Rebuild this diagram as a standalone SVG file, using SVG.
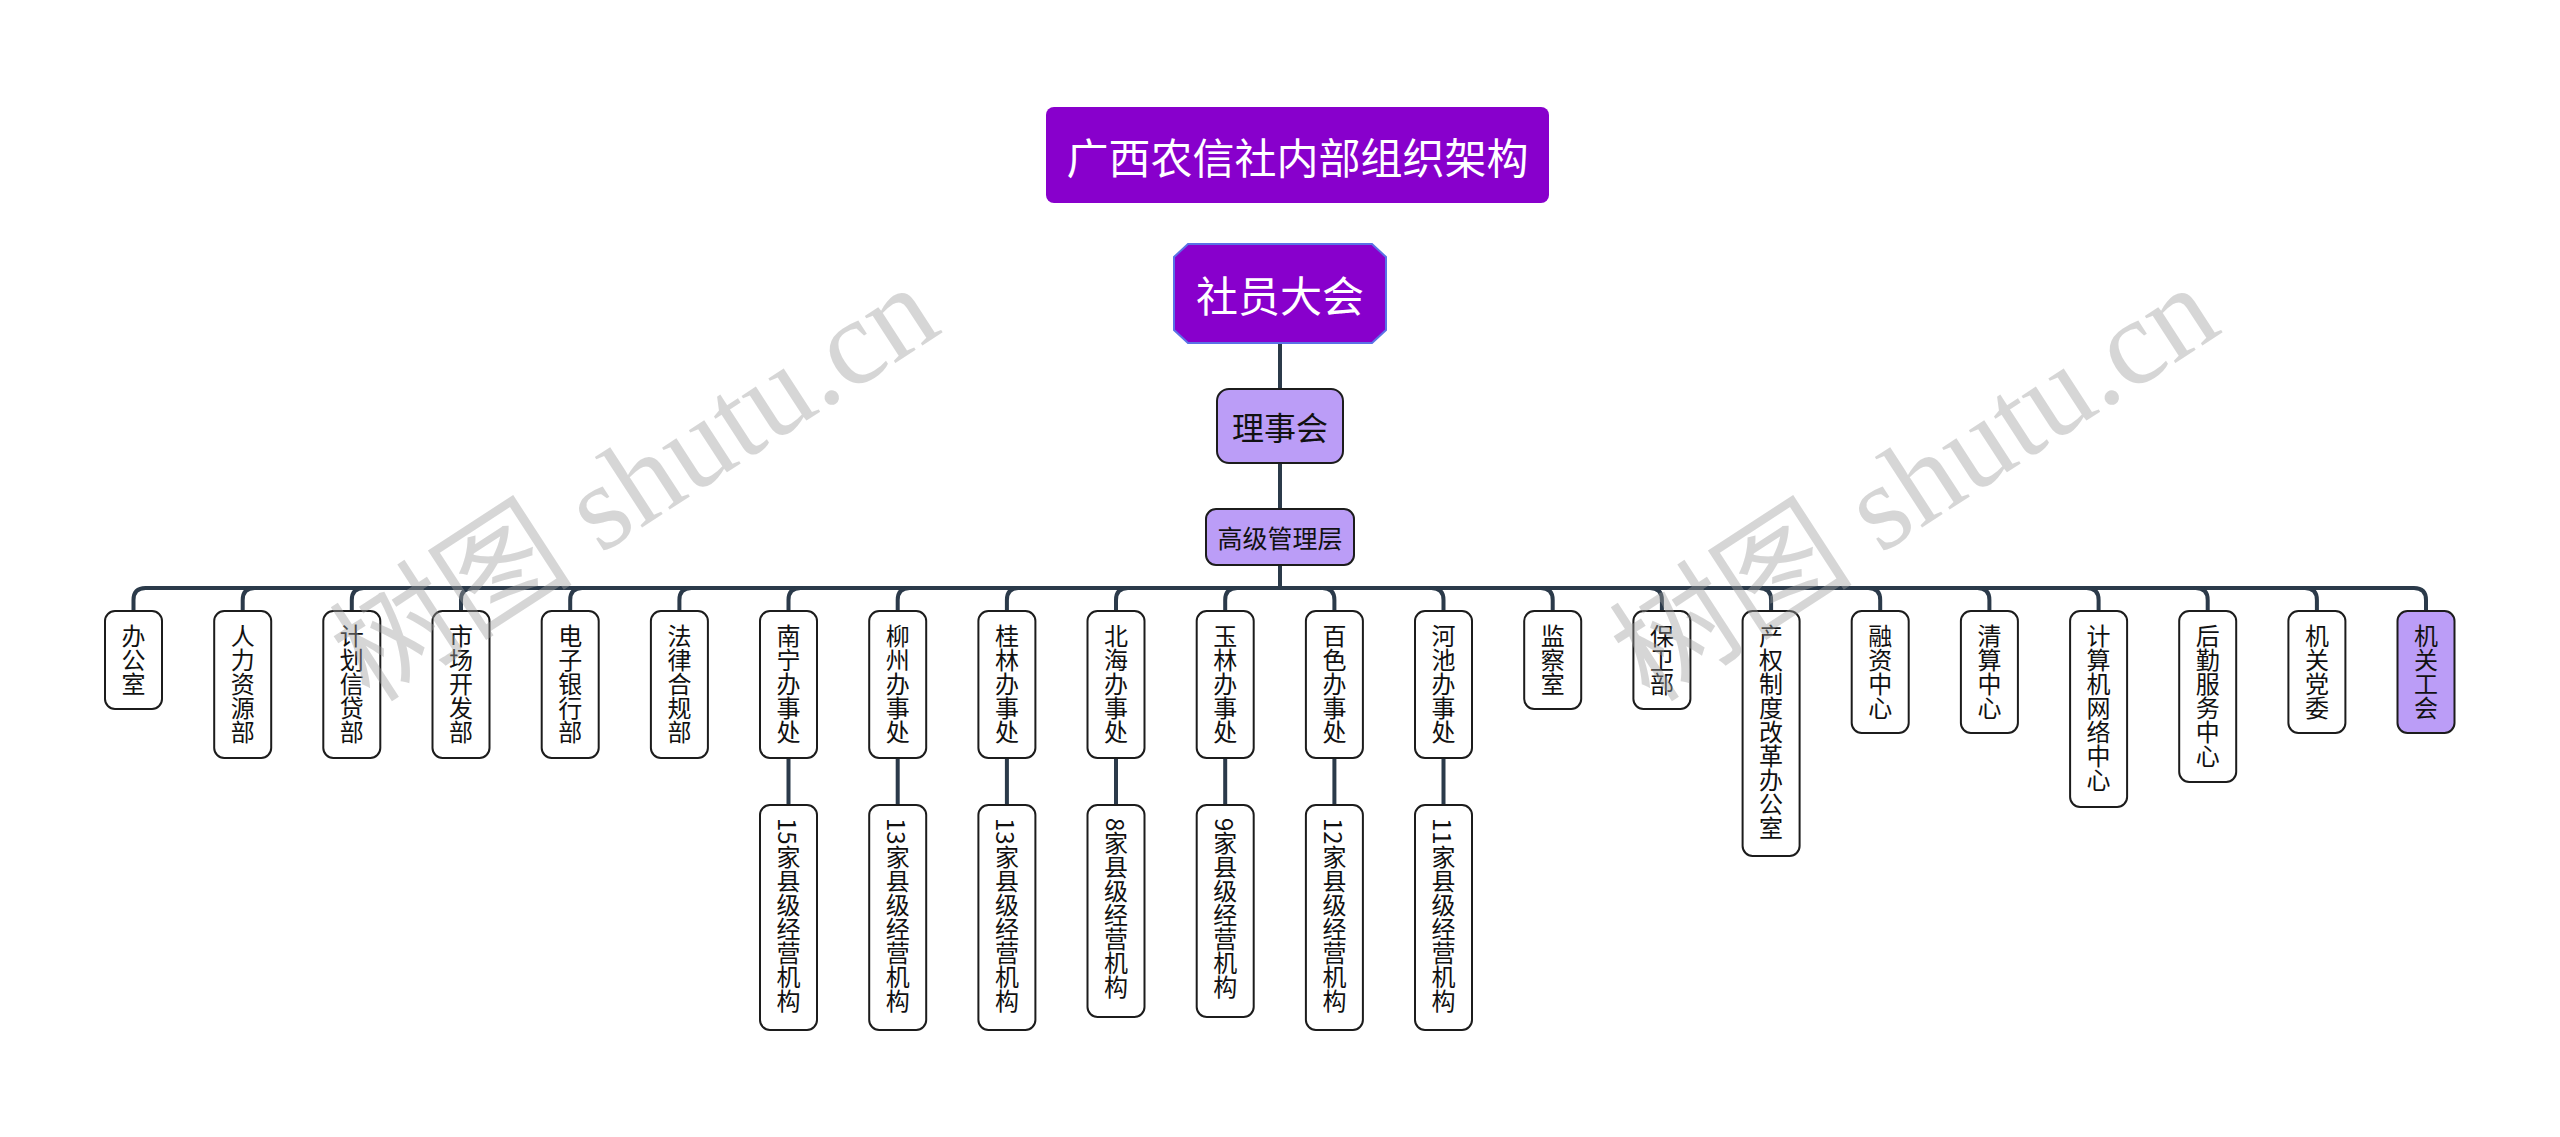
<svg xmlns="http://www.w3.org/2000/svg" width="2560" height="1137" viewBox="0 0 2560 1137">
<style>
.bg{fill:#ffffff}
.conn{fill:none;stroke:#2b3a4a;stroke-width:4;stroke-linecap:round}
.box{fill:#ffffff;stroke:#1c1c1c;stroke-width:2}
.lav{fill:#bb9df7;stroke:#1c1c1c;stroke-width:2}
.pur{fill:#8800cc}
.t{font-family:"Noto Sans CJK SC","Noto Sans",sans-serif;fill:#111111;text-anchor:middle;dominant-baseline:central}
.w{fill:#ffffff;font-size:42px}
.v{font-family:"Noto Sans CJK SC","Noto Sans",sans-serif;fill:#111111;font-size:24px;writing-mode:vertical-rl;text-anchor:start}
.wm{font-family:"Liberation Serif","Noto Sans CJK SC",serif;font-size:122px;fill:#a0a0a0;opacity:0.42}
</style>
<rect class="bg" x="0" y="0" width="2560" height="1137"/>

<g id="connectors">
<path class="conn" d="M1280 343V389M1280 463V509M1280 565V588"/>
<path class="conn" d="M133.5 611V600Q133.5 588 145.5 588H2414Q2426 588 2426 600V611"/>
<path class="conn" d="M242.7 611V600Q242.7 588 254.7 588M351.8 611V600Q351.8 588 363.8 588M461 611V600Q461 588 473 588M570.2 611V600Q570.2 588 582.2 588M679.4 611V600Q679.4 588 691.4 588M788.5 611V600Q788.5 588 800.5 588M897.7 611V600Q897.7 588 909.7 588M1006.9 611V600Q1006.9 588 1018.9 588M1116 611V600Q1116 588 1128 588M1225.2 611V600Q1225.2 588 1237.2 588"/>
<path class="conn" d="M1334.4 611V600Q1334.4 588 1322.4 588M1443.5 611V600Q1443.5 588 1431.5 588M1552.7 611V600Q1552.7 588 1540.7 588M1661.9 611V600Q1661.9 588 1649.9 588M1771.1 611V600Q1771.1 588 1759.1 588M1880.2 611V600Q1880.2 588 1868.2 588M1989.4 611V600Q1989.4 588 1977.4 588M2098.6 611V600Q2098.6 588 2086.6 588M2207.7 611V600Q2207.7 588 2195.7 588M2316.9 611V600Q2316.9 588 2304.9 588"/>
<path class="conn" d="M788.5 758V805M897.7 758V805M1006.9 758V805M1116 758V805M1225.2 758V805M1334.4 758V805M1443.5 758V805"/>
</g>

<g id="title"><rect class="pur" x="1046" y="107" width="503" height="96" rx="8"/><text class="t w" x="1297.5" y="155">广西农信社内部组织架构</text></g>
<g id="n-sheyuan"><polygon points="1188,244 1372,244 1386,257 1386,330 1372,343 1188,343 1174,330 1174,257" fill="#8800cc" stroke="#5a72e6" stroke-width="2"/><text class="t w" x="1280" y="293.5">社员大会</text></g>
<g id="n-lishi"><rect class="lav" x="1217" y="389" width="126" height="74" rx="12"/><text class="t" x="1280" y="426" font-size="32">理事会</text></g>
<g id="n-gaoji"><rect class="lav" x="1206" y="509" width="148" height="56" rx="10"/><text class="t" x="1280" y="537" font-size="25">高级管理层</text></g>

<g id="c0"><rect class="box" x="105" y="611" width="57" height="98" rx="10"/><text class="v" x="133.5" y="624">办公室</text></g>
<g id="c1"><rect class="box" x="214.2" y="611" width="57" height="147" rx="10"/><text class="v" x="242.7" y="624">人力资源部</text></g>
<g id="c2"><rect class="box" x="323.3" y="611" width="57" height="147" rx="10"/><text class="v" x="351.8" y="624">计划信贷部</text></g>
<g id="c3"><rect class="box" x="432.5" y="611" width="57" height="147" rx="10"/><text class="v" x="461" y="624">市场开发部</text></g>
<g id="c4"><rect class="box" x="541.7" y="611" width="57" height="147" rx="10"/><text class="v" x="570.2" y="624">电子银行部</text></g>
<g id="c5"><rect class="box" x="650.9" y="611" width="57" height="147" rx="10"/><text class="v" x="679.4" y="624">法律合规部</text></g>
<g id="c6"><rect class="box" x="760" y="611" width="57" height="147" rx="10"/><text class="v" x="788.5" y="624">南宁办事处</text></g>
<g id="c7"><rect class="box" x="869.2" y="611" width="57" height="147" rx="10"/><text class="v" x="897.7" y="624">柳州办事处</text></g>
<g id="c8"><rect class="box" x="978.4" y="611" width="57" height="147" rx="10"/><text class="v" x="1006.9" y="624">桂林办事处</text></g>
<g id="c9"><rect class="box" x="1087.5" y="611" width="57" height="147" rx="10"/><text class="v" x="1116" y="624">北海办事处</text></g>
<g id="c10"><rect class="box" x="1196.7" y="611" width="57" height="147" rx="10"/><text class="v" x="1225.2" y="624">玉林办事处</text></g>
<g id="c11"><rect class="box" x="1305.9" y="611" width="57" height="147" rx="10"/><text class="v" x="1334.4" y="624">百色办事处</text></g>
<g id="c12"><rect class="box" x="1415" y="611" width="57" height="147" rx="10"/><text class="v" x="1443.5" y="624">河池办事处</text></g>
<g id="c13"><rect class="box" x="1524.2" y="611" width="57" height="98" rx="10"/><text class="v" x="1552.7" y="624">监察室</text></g>
<g id="c14"><rect class="box" x="1633.4" y="611" width="57" height="98" rx="10"/><text class="v" x="1661.9" y="624">保卫部</text></g>
<g id="c15"><rect class="box" x="1742.6" y="611" width="57" height="245" rx="10"/><text class="v" x="1771.1" y="624">产权制度改革办公室</text></g>
<g id="c16"><rect class="box" x="1851.7" y="611" width="57" height="122" rx="10"/><text class="v" x="1880.2" y="624">融资中心</text></g>
<g id="c17"><rect class="box" x="1960.9" y="611" width="57" height="122" rx="10"/><text class="v" x="1989.4" y="624">清算中心</text></g>
<g id="c18"><rect class="box" x="2070.1" y="611" width="57" height="196" rx="10"/><text class="v" x="2098.6" y="624">计算机网络中心</text></g>
<g id="c19"><rect class="box" x="2179.2" y="611" width="57" height="171" rx="10"/><text class="v" x="2207.7" y="624">后勤服务中心</text></g>
<g id="c20"><rect class="box" x="2288.4" y="611" width="57" height="122" rx="10"/><text class="v" x="2316.9" y="624">机关党委</text></g>
<g id="c21"><rect class="lav" x="2397.5" y="611" width="57" height="122" rx="10"/><text class="v" x="2426" y="624">机关工会</text></g>

<g id="s6"><rect class="box" x="760" y="805" width="57" height="225" rx="10"/><text class="v" x="788.5" y="818">15家县级经营机构</text></g>
<g id="s7"><rect class="box" x="869.2" y="805" width="57" height="225" rx="10"/><text class="v" x="897.7" y="818">13家县级经营机构</text></g>
<g id="s8"><rect class="box" x="978.4" y="805" width="57" height="225" rx="10"/><text class="v" x="1006.9" y="818">13家县级经营机构</text></g>
<g id="s9"><rect class="box" x="1087.5" y="805" width="57" height="212" rx="10"/><text class="v" x="1116" y="818">8家县级经营机构</text></g>
<g id="s10"><rect class="box" x="1196.7" y="805" width="57" height="212" rx="10"/><text class="v" x="1225.2" y="818">9家县级经营机构</text></g>
<g id="s11"><rect class="box" x="1305.9" y="805" width="57" height="225" rx="10"/><text class="v" x="1334.4" y="818">12家县级经营机构</text></g>
<g id="s12"><rect class="box" x="1415" y="805" width="57" height="225" rx="10"/><text class="v" x="1443.5" y="818">11家县级经营机构</text></g>

<g id="watermarks">
<text class="wm" transform="translate(370 704) rotate(-33)">树图 shutu.cn</text>
<text class="wm" transform="translate(1650 704) rotate(-33)">树图 shutu.cn</text>
</g>
</svg>
